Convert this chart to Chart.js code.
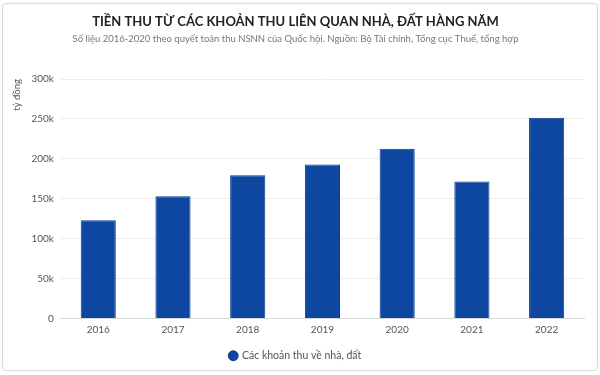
<!DOCTYPE html>
<html>
<head>
<meta charset="utf-8">
<script src="https://cdn.jsdelivr.net/npm/chart.js@4"></script>
<style>
	html, body { margin: 0; padding: 0; background: #fff; }
	#card { position: absolute; left: 2px; top: 3px; width: 594px; height: 366px; border: 1px solid #dcdcdc; border-radius: 4px; box-shadow: 0 0 2px rgba(0,0,0,0.08); }
	#wrap { position: absolute; left: 0; top: 0; width: 600px; height: 375px; }
</style>
</head>
<body>
<div id="card"></div>
<div id="wrap"><canvas id="myChart" width="600" height="375"></canvas></div>
<script>
var years = ['2016', '2017', '2018', '2019', '2020', '2021', '2022'];
var values = [123000, 153000, 179500, 193000, 212500, 171500, 251500];
var seriesName = 'Các khoản thu về nhà, đất';
var titleText = 'TIỀN THU TỪ CÁC KHOẢN THU LIÊN QUAN NHÀ, ĐẤT HÀNG NĂM';
var subtitleText = 'Số liệu 2016-2020 theo quyết toán thu NSNN của Quốc hội. Nguồn: Bộ Tài chính, Tổng cục Thuế, tổng hợp';
var yTitle = 'tỷ đồng';

var fontFam = 'Lato, "Open Sans", sans-serif';

var config = {
	type: 'bar',
	data: {
		labels: years,
		datasets: [{
			label: seriesName,
			data: values,
			backgroundColor: '#0d47a1',
			borderColor: '#0a3c8c',
			borderWidth: 1,
			barPercentage: 0.94,
			categoryPercentage: 0.5
		}]
	},
	options: {
		responsive: false,
		animation: false,
		layout: { padding: { left: 7, right: 16, top: 0, bottom: 4 } },
		plugins: {
			title: {
				display: true,
				text: titleText,
				color: '#222',
				font: { family: fontFam, size: 13, weight: 'bold' },
				padding: { top: 14, bottom: 4 }
			},
			subtitle: {
				display: true,
				text: subtitleText,
				color: '#777',
				font: { family: fontFam, size: 9.5 },
				padding: { bottom: 34 }
			},
			legend: {
				position: 'bottom',
				labels: {
					usePointStyle: true,
					pointStyle: 'circle',
					boxWidth: 7,
					boxHeight: 7,
					color: '#555',
					font: { family: fontFam, size: 10.5 },
					padding: 10
				}
			},
			tooltip: { enabled: false }
		},
		scales: {
			x: {
				grid: { display: false, drawTicks: false },
				border: { color: '#d8d8d8' },
				ticks: { color: '#555', font: { family: fontFam, size: 10 }, padding: 5 }
			},
			y: {
				min: 0,
				max: 300000,
				border: { display: false },
				grid: { color: '#ececec', drawTicks: false },
				ticks: {
					stepSize: 50000,
					color: '#555',
					padding: 7,
					font: { family: fontFam, size: 10 },
					callback: function(v) { return v === 0 ? '0' : (v / 1000) + 'k'; }
				},
				title: {
					display: true,
					text: yTitle,
					align: 'end',
					color: '#555',
					font: { family: fontFam, size: 9.5 },
					padding: { top: 4, bottom: 2 }
				}
			}
		}
	}
};

var ctx = document.getElementById('myChart').getContext('2d');
window.myBar = new Chart(ctx, config);
</script>
</body>
</html>
